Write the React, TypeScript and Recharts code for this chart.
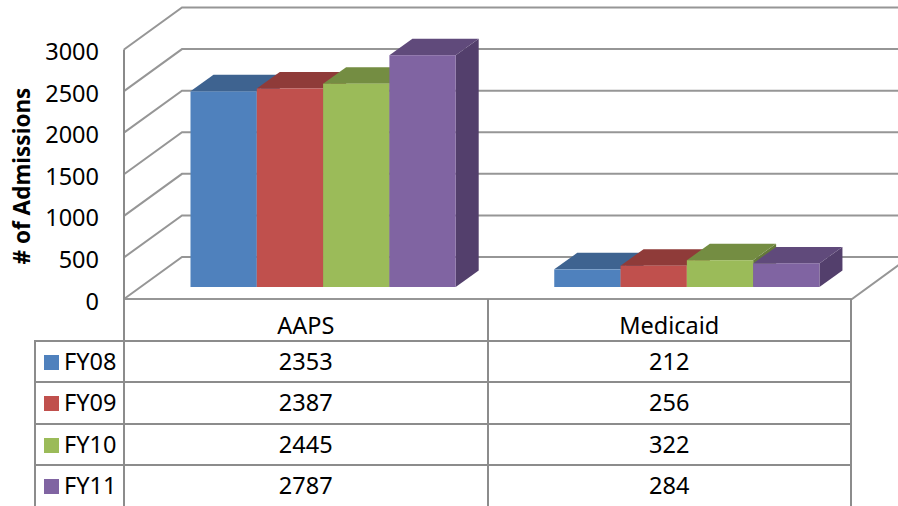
import { Bar, BarChart, CartesianGrid, XAxis, YAxis } from 'recharts';

const categories = ['AAPS', 'Medicaid'];
const seriesNames = ['FY08', 'FY09', 'FY10', 'FY11'];
const fy08 = [2353, 212];
const fy09 = [2387, 256];
const fy10 = [2445, 322];
const fy11 = [2787, 284];
const seriesValues = [fy08, fy09, fy10, fy11];
const yTicks = [0, 500, 1000, 1500, 2000, 2500, 3000];

const frontColors = ['#4f81bd', '#c0504d', '#9bbb59', '#8064a2'];
const topColors = ['#3e6390', '#8f3b39', '#748d42', '#604a7b'];
const sideColors = ['#365679', '#7d3331', '#65793a', '#533f6c'];

const chartData = categories.map((name, i) => {
  const row: Record<string, string | number> = { name };
  seriesNames.forEach((s, j) => {
    row[s] = seriesValues[j][i];
  });
  return row;
});

const FONT = '"Noto Sans", sans-serif';
const LINE = '#969696';
const PLOT_TOP = 37.5;
const PLOT_BOTTOM = 287;
// the walls sit a little in front of the bars
const WALL_DROP = 12;
const WALL_X = 124;
const BACK_DX = 58;
const BACK_DY = 42;
const FLOOR_RIGHT = 852;
const DEPTH_X = 23;
const DEPTH_Y = 16.5;

function gridLine(props: any) {
  const y = props.y1 + WALL_DROP;
  const isFloor = Math.abs(props.y1 - PLOT_BOTTOM) < 1;
  const isTop = Math.abs(props.y1 - PLOT_TOP) < 1;
  return (
    <g key={props.key}>
      <polyline
        points={`${WALL_X},${y} ${WALL_X + BACK_DX},${y - BACK_DY} 900,${y - BACK_DY}`}
        fill="none"
        stroke={LINE}
        strokeWidth={2}
      />
      {isFloor ? (
        <polyline
          points={`${WALL_X},${y} ${FLOOR_RIGHT},${y} 900,${y - 35}`}
          fill="none"
          stroke={LINE}
          strokeWidth={2}
        />
      ) : null}
      {isTop ? (
        <line
          x1={WALL_X}
          x2={WALL_X}
          y1={y}
          y2={PLOT_BOTTOM + WALL_DROP}
          stroke="#8a8a8a"
          strokeWidth={2}
        />
      ) : null}
    </g>
  );
}

function yTick(props: any) {
  return (
    <text
      x={99}
      y={props.y + WALL_DROP + 10.5}
      textAnchor="end"
      fontFamily={FONT}
      fontSize={23.5}
      fill="#000"
    >
      {props.payload.value}
    </text>
  );
}

function boxShape(index: number) {
  return function Box(props: any) {
    const { x, y, width, height } = props;
    const right = x + width;
    const bottom = y + height;
    return (
      <g>
        <polygon
          points={`${right},${y} ${right + DEPTH_X},${y - DEPTH_Y} ${right + DEPTH_X},${bottom - DEPTH_Y} ${right},${bottom}`}
          fill={sideColors[index]}
        />
        <polygon
          points={`${x},${y} ${x + DEPTH_X},${y - DEPTH_Y} ${right + DEPTH_X},${y - DEPTH_Y} ${right},${y}`}
          fill={topColors[index]}
        />
        <rect x={x} y={y} width={width} height={height} fill={frontColors[index]} />
      </g>
    );
  };
}

const cell = {
  border: '2px solid #8c8c8c',
  padding: 0,
  textAlign: 'center' as const,
  height: 41.6,
  boxSizing: 'border-box' as const,
};

function DataTable() {
  return (
    <table
      style={{
        position: 'absolute',
        left: 34,
        top: 299,
        width: 816,
        borderCollapse: 'collapse',
        tableLayout: 'fixed',
        fontFamily: FONT,
        fontSize: 23.5,
        lineHeight: 1,
        color: '#000',
      }}
    >
      <colgroup>
        <col style={{ width: 89 }} />
        <col style={{ width: 363.5 }} />
        <col style={{ width: 363.5 }} />
      </colgroup>
      <tbody>
        <tr>
          <td style={{ ...cell, borderTop: 'none', borderLeft: 'none' }} />
          {categories.map((c) => (
            <td key={c} style={{ ...cell, borderTop: 'none', paddingTop: 12 }}>
              {c}
            </td>
          ))}
        </tr>
        {seriesNames.map((s, j) => (
          <tr key={s}>
            <td style={{ ...cell, textAlign: 'left', whiteSpace: 'nowrap' }}>
              <span
                style={{
                  display: 'inline-block',
                  width: 15,
                  height: 15,
                  margin: '0 5px 0 8px',
                  background: frontColors[j],
                }}
              />
              {s}
            </td>
            {seriesValues[j].map((v, i) => (
              <td key={i} style={cell}>
                {v}
              </td>
            ))}
          </tr>
        ))}
      </tbody>
    </table>
  );
}

export default function App() {
  return (
    <div
      style={{
        position: 'absolute',
        left: 0,
        top: 0,
        width: 898,
        height: 506,
        overflow: 'hidden',
        background: '#fff',
      }}
    >
      <BarChart
        width={898}
        height={506}
        data={chartData}
        margin={{ top: PLOT_TOP, right: 29, bottom: 506 - PLOT_BOTTOM, left: 0 }}
        barSize={66.3}
        barGap={0}
      >
        <CartesianGrid vertical={false} horizontal={gridLine} />
        <XAxis dataKey="name" hide />
        <YAxis
          width={141.5}
          domain={[0, 3000]}
          ticks={yTicks}
          interval={0}
          axisLine={false}
          tickLine={false}
          tick={yTick}
        />
        {seriesNames.map((s, j) => (
          <Bar key={s} dataKey={s} shape={boxShape(j)} isAnimationActive={false} />
        ))}
      </BarChart>
      <div
        style={{
          position: 'absolute',
          left: 21,
          top: 176,
          transform: 'translate(-50%, -50%) rotate(-90deg)',
          fontFamily: FONT,
          fontSize: 22.5,
          fontWeight: 700,
          whiteSpace: 'nowrap',
          color: '#000',
        }}
      >
        # of Admissions
      </div>
      <DataTable />
    </div>
  );
}
